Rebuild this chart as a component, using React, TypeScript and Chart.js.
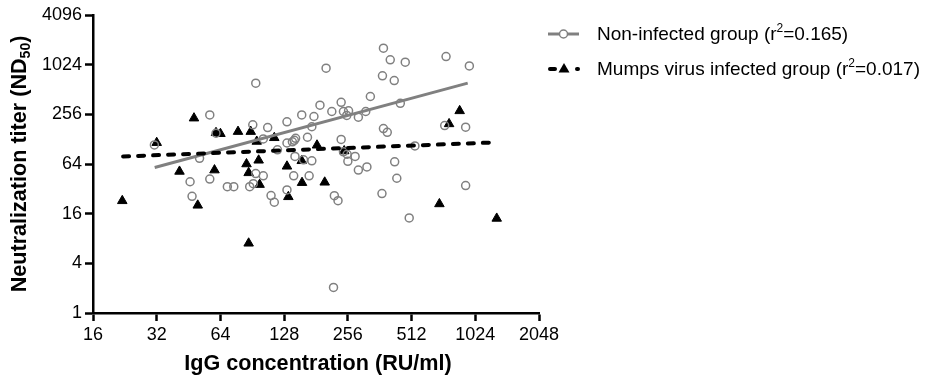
import React, { useEffect, useRef } from "react";
import { Chart, registerables } from "chart.js";

Chart.register(...registerables);

const FONT = "'Liberation Sans', Arial, Helvetica, sans-serif";

// Axis ticks
const xTickValues = [16, 32, 64, 128, 256, 512, 1024, 2048];
const yTickValues = [1, 4, 16, 64, 256, 1024, 4096];

// Non-infected group (open gray circles)
const nonInfectedIgG = [
  31.2, 51, 46, 47, 57, 61, 57, 69, 74, 94, 88, 91.5, 94, 102, 91, 107, 102, 111, 115, 119,
  132, 132, 140, 145, 143, 165, 173, 155, 177, 189, 202, 144, 158, 173, 142, 168, 132, 219, 221, 230,
  238, 238, 215, 244, 258, 253, 287, 311, 327, 453, 377, 406, 478, 373, 424, 745, 960, 377, 393, 531,
  734, 922, 244, 254, 277, 256, 287, 315, 426, 436, 371, 499, 922,
];
const nonInfectedTiter = [
  109, 75, 39, 26, 252, 151, 42, 34, 34, 611, 34, 37, 49, 46, 191, 177, 129, 26.5, 22, 95,
  208, 115, 119, 131, 124, 135, 181, 252, 241, 331, 929, 79, 72, 70, 46, 46, 31, 2.04, 26.4, 23,
  127, 358, 277, 277, 282, 248, 236, 277, 421, 348, 1622, 1171, 1098, 749, 657, 1284, 990, 172, 155, 106,
  187, 179, 90, 84, 79, 69, 54, 59, 68, 43, 28, 14.2, 35,
];

// Mumps virus infected group (filled black triangles)
const infectedIgG = [
  22, 32, 41, 48, 50, 60, 61, 64, 77.5, 89, 85, 97, 87, 98, 87, 95, 115, 132, 134, 155,
  155.5, 183, 199, 246, 693, 770, 864, 1293,
];
const infectedTiter = [
  22.9, 116, 52, 230, 20.2, 54, 153, 149, 158, 158, 64, 71, 50, 36, 7, 120, 133, 60, 25.6, 70,
  38, 108, 38.4, 92, 21, 196, 282, 14,
];

// Regression lines (end points)
const nonInfectedFitIgG = [31.3, 943];
const nonInfectedFitTiter = [58, 611];
const infectedFitIgG = [22.2, 1275];
const infectedFitTiter = [79, 117];

// Texts
const xAxisTitle = "IgG concentration (RU/ml)";
const yAxisTitle = ["Neutralization titer (ND", "50", ")"];
const legendNonInfected = ["Non-infected group (r", "2", "=0.165)"];
const legendInfected = ["Mumps virus infected group (r", "2", "=0.017)"];

const toPoints = (xs: number[], ys: number[]) => xs.map((x, i) => ({ x, y: ys[i] }));

const textPlugin = {
  id: "customTexts",
  afterDraw(chart: any) {
    const ctx: CanvasRenderingContext2D = chart.ctx;
    ctx.save();
    ctx.fillStyle = "#000";
    ctx.textBaseline = "alphabetic";

    // X title
    ctx.font = `bold 21.6px ${FONT}`;
    ctx.textAlign = "center";
    ctx.fillText(xAxisTitle, 318, 370);

    // Y title (rotated, with subscript)
    ctx.textAlign = "left";
    const big = `bold 21.6px ${FONT}`;
    const small = `bold 14px ${FONT}`;
    ctx.font = big;
    const w1 = ctx.measureText(yAxisTitle[0]).width;
    const w3 = ctx.measureText(yAxisTitle[2]).width;
    ctx.font = small;
    const w2 = ctx.measureText(yAxisTitle[1]).width;
    const total = w1 + w2 + w3;
    ctx.translate(26, 164);
    ctx.rotate(-Math.PI / 2);
    let px = -total / 2;
    ctx.font = big;
    ctx.fillText(yAxisTitle[0], px, 0);
    px += w1;
    ctx.font = small;
    ctx.fillText(yAxisTitle[1], px, 4);
    px += w2;
    ctx.font = big;
    ctx.fillText(yAxisTitle[2], px, 0);
    ctx.setTransform(1, 0, 0, 1, 0, 0);

    // Legend
    const drawLabel = (parts: string[], x: number, y: number) => {
      ctx.textBaseline = "middle";
      ctx.textAlign = "left";
      ctx.font = `19px ${FONT}`;
      ctx.fillText(parts[0], x, y);
      let cx = x + ctx.measureText(parts[0]).width;
      ctx.font = `12px ${FONT}`;
      ctx.fillText(parts[1], cx, y - 6);
      cx += ctx.measureText(parts[1]).width;
      ctx.font = `19px ${FONT}`;
      ctx.fillText(parts[2], cx, y);
    };

    // row 1 sample
    ctx.strokeStyle = "#808080";
    ctx.lineWidth = 3;
    ctx.beginPath();
    ctx.moveTo(548, 34);
    ctx.lineTo(579, 34);
    ctx.stroke();
    ctx.fillStyle = "#fff";
    ctx.lineWidth = 1.5;
    ctx.beginPath();
    ctx.arc(563.5, 34, 4, 0, Math.PI * 2);
    ctx.fill();
    ctx.stroke();
    ctx.fillStyle = "#000";
    drawLabel(legendNonInfected, 597, 35);

    // row 2 sample
    ctx.strokeStyle = "#000";
    ctx.lineWidth = 4;
    ctx.lineCap = "round";
    ctx.beginPath();
    ctx.moveTo(550, 69);
    ctx.lineTo(555, 69);
    ctx.stroke();
    ctx.beginPath();
    ctx.moveTo(577, 69);
    ctx.lineTo(578, 69);
    ctx.stroke();
    ctx.fillStyle = "#000";
    ctx.beginPath();
    ctx.moveTo(564, 63);
    ctx.lineTo(569.5, 72.5);
    ctx.lineTo(558.5, 72.5);
    ctx.closePath();
    ctx.fill();
    drawLabel(legendInfected, 597, 70);

    ctx.restore();
  },
};

export default function App() {
  const canvasRef = useRef<HTMLCanvasElement | null>(null);

  useEffect(() => {
    if (!canvasRef.current) return;
    const chart = new Chart(canvasRef.current, {
      type: "scatter",
      data: {
        datasets: [
          {
            label: "Non-infected fit",
            data: toPoints(nonInfectedFitIgG, nonInfectedFitTiter),
            showLine: true,
            borderColor: "#808080",
            borderWidth: 3,
            pointRadius: 0,
            order: 1,
          },
          {
            label: "Infected fit",
            data: toPoints(infectedFitIgG, infectedFitTiter),
            showLine: true,
            borderColor: "#000",
            borderWidth: 4,
            borderDash: [6, 9],
            borderCapStyle: "round",
            pointRadius: 0,
            order: 0,
          },
          {
            label: "Non-infected group",
            data: toPoints(nonInfectedIgG, nonInfectedTiter),
            pointStyle: "circle",
            pointRadius: 4,
            pointBorderWidth: 1.5,
            pointBorderColor: "#808080",
            pointBackgroundColor: "rgba(0,0,0,0)",
            borderColor: "#808080",
            backgroundColor: "rgba(0,0,0,0)",
            order: 2,
          },
          {
            label: "Mumps virus infected group",
            data: toPoints(infectedIgG, infectedTiter),
            pointStyle: "triangle",
            pointRadius: 5.5,
            pointBorderWidth: 1,
            pointBorderColor: "#000",
            pointBackgroundColor: "#000",
            borderColor: "#000",
            backgroundColor: "#000",
            order: 3,
          },
        ],
      },
      options: {
        responsive: false,
        animation: false,
        devicePixelRatio: 1,
        layout: { padding: { top: 15, right: 388, left: 0, bottom: 0 } },
        plugins: {
          legend: { display: false },
          tooltip: { enabled: false },
          title: { display: false },
        },
        scales: {
          x: {
            type: "logarithmic",
            min: 16,
            max: 2048,
            afterBuildTicks: (s: any) => {
              s.ticks = xTickValues.map((v) => ({ value: v }));
            },
            afterFit: (s: any) => {
              s.height = 377 - 313;
            },
            ticks: {
              callback: (v: any) => String(v),
              color: "#000",
              font: { size: 18, family: FONT },
              padding: 3,
              autoSkip: false,
              maxRotation: 0,
            },
            grid: {
              display: true,
              drawOnChartArea: false,
              drawTicks: true,
              tickLength: 8,
              tickWidth: 2.5,
              tickColor: "#000",
              color: "#000",
            },
            border: { display: true, width: 2.5, color: "#000" },
          },
          y: {
            type: "logarithmic",
            min: 1,
            max: 4096,
            afterBuildTicks: (s: any) => {
              s.ticks = yTickValues.map((v) => ({ value: v }));
            },
            afterFit: (s: any) => {
              s.width = 93;
            },
            ticks: {
              callback: (v: any) => String(v),
              color: "#000",
              font: { size: 18, family: FONT },
              padding: 3,
              autoSkip: false,
            },
            grid: {
              display: true,
              drawOnChartArea: false,
              drawTicks: true,
              tickLength: 8,
              tickWidth: 2.5,
              tickColor: "#000",
              color: "#000",
            },
            border: { display: true, width: 2.5, color: "#000" },
          },
        },
      },
      plugins: [textPlugin],
    } as any);
    return () => chart.destroy();
  }, []);

  return (
    <div style={{ position: "fixed", left: 0, top: 0, width: 927, height: 377, background: "#fff" }}>
      <canvas ref={canvasRef} width={927} height={377} style={{ display: "block" }} />
    </div>
  );
}
